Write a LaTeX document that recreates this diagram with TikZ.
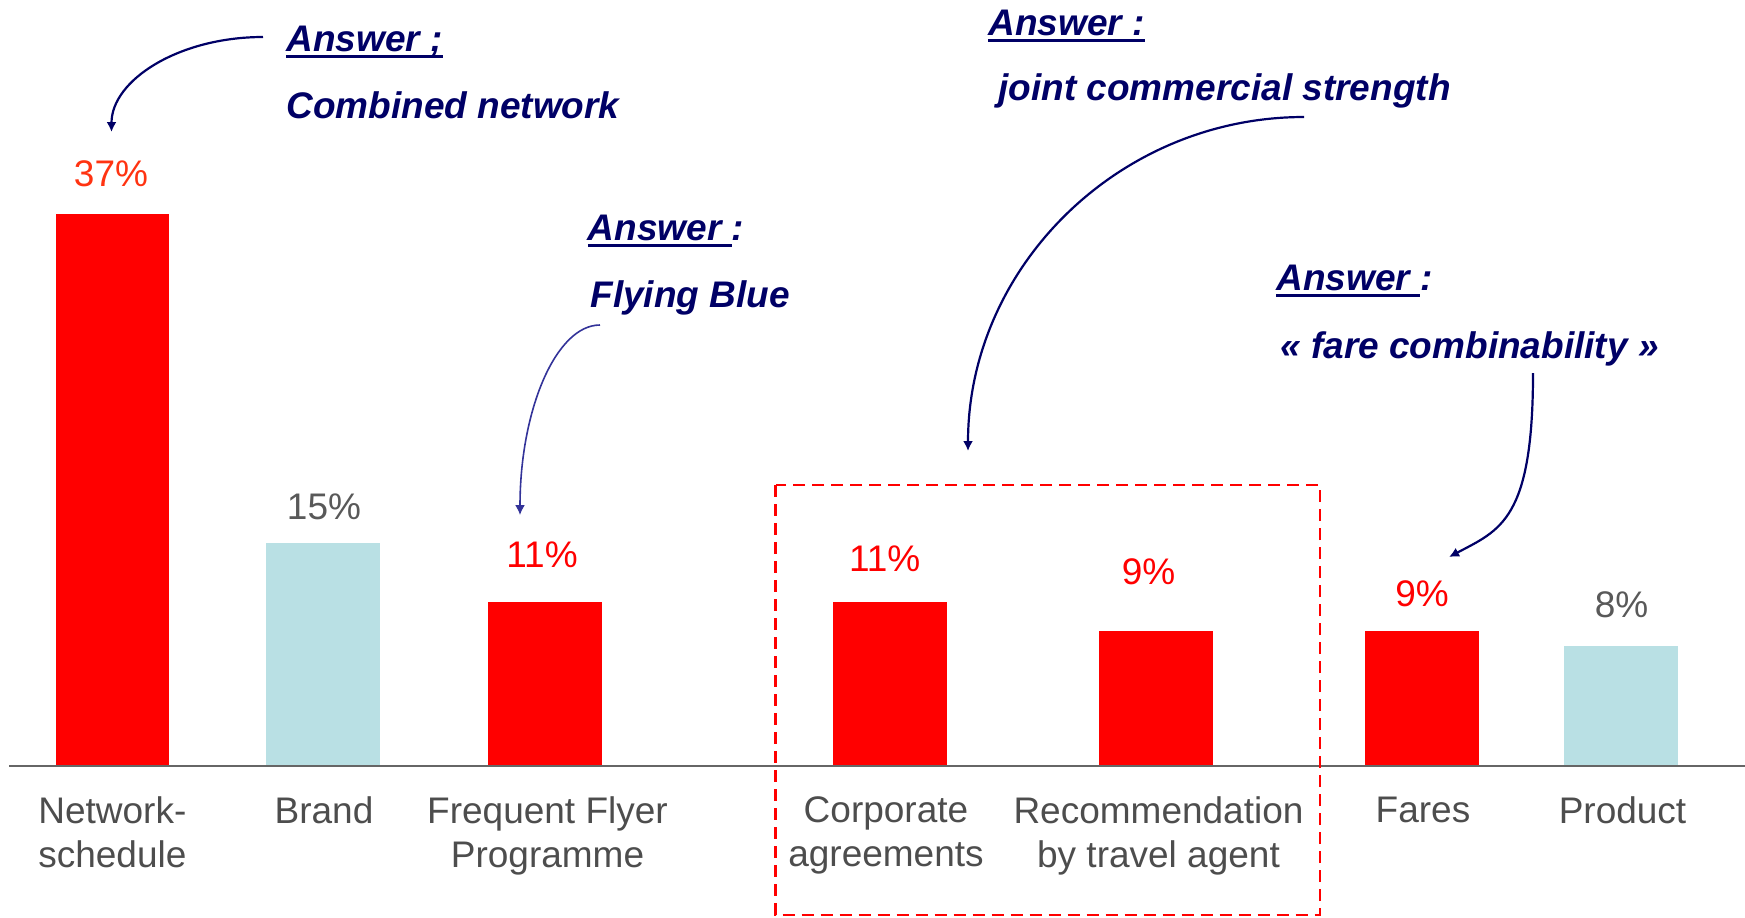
\documentclass[tikz,border=0pt]{standalone}
\usepackage{fontspec}
\setmainfont{Liberation Sans}
\usetikzlibrary{arrows.meta}

\definecolor{barred}{RGB}{255,0,0}
\definecolor{barblue}{RGB}{185,224,228}
\definecolor{navy}{RGB}{0,0,102}
\definecolor{softnavy}{RGB}{51,51,153}
\definecolor{labelgray}{RGB}{77,77,77}
\definecolor{pctgray}{RGB}{89,89,89}
\definecolor{pctorange}{RGB}{255,51,17}

\newcommand{\answerline}[1]{\setbox0\hbox{#1}\rlap{\rule[-3.7pt]{\wd0}{1.9pt}}\box0}

\begin{document}
\begin{tikzpicture}[x=0.5pt, y=-0.5pt,
    bar/.style={anchor=south, inner sep=0, minimum width=56.75pt},
    pct/.style={anchor=base, inner sep=0, font=\fontsize{18.5}{22}\selectfont},
    catlabel/.style={anchor=north, inner sep=0, align=center, text=labelgray, font=\fontsize{18.5}{21.8}\selectfont},
    answer/.style={anchor=base west, inner sep=0, text=navy, font=\fontsize{18.5}{22}\selectfont\bfseries\itshape},
    pointer/.style={-{Latex[length=5pt, width=5pt]}, line width=1.1pt, navy}
  ]
    \useasboundingbox (0,0) rectangle (1745,917);

    % bars
    \node[bar, fill=barred, minimum height=275.5pt] (barNet) at (112.4,765.7) {};
    \node[bar, fill=barblue, minimum height=111.3pt] (barBrand) at (323,765.7) {};
    \node[bar, fill=barred, minimum height=81.8pt] (barFFP) at (545,765.7) {};
    \node[bar, fill=barred, minimum height=81.8pt] (barCorp) at (890,765.7) {};
    \node[bar, fill=barred, minimum height=67.3pt] (barAgent) at (1156,765.7) {};
    \node[bar, fill=barred, minimum height=67.3pt] (barFares) at (1422,765.7) {};
    \node[bar, fill=barblue, minimum height=59.5pt] (barProduct) at (1621,765.7) {};

    % axis
    \coordinate (axisL) at (9,765.7);
    \coordinate (axisR) at (1745,765.7);
    \draw[line width=0.9pt, black!60] (axisL) -- (axisR);

    % values
    \node[pct, text=pctorange] (pctNet) at (111,186) {37\%};
    \node[pct, text=pctgray] (pctBrand) at (324,519) {15\%};
    \node[pct, text=barred] (pctFFP) at (542,567.5) {11\%};
    \node[pct, text=barred] (pctCorp) at (884.7,571) {11\%};
    \node[pct, text=barred] (pctAgent) at (1148.5,584) {9\%};
    \node[pct, text=barred] (pctFares) at (1422,606) {9\%};
    \node[pct, text=pctgray] (pctProduct) at (1621.5,617.5) {8\%};

    % categories
    \node[catlabel] (catNet) at (112.4,796.7) {Network-\\schedule};
    \node[catlabel] (catBrand) at (324,796.7) {Brand};
    \node[catlabel] (catFFP) at (547.5,796.7) {Frequent Flyer\\Programme};
    \node[catlabel] (catCorp) at (886,796.7) {Corporate\\agreements};
    \node[catlabel] (catAgent) at (1158.5,796.7) {Recommendation\\by travel agent};
    \node[catlabel] (catFares) at (1423,796.7) {Fares};
    \node[catlabel] (catProduct) at (1622.5,796.7) {Product};

    % group box
    \draw[barred, line width=1.2pt, dash pattern=on 6pt off 3.5pt] (775.6,485) rectangle (1319.8,915);

    % answers
    \node[answer] (ansNetHead) at (286,51) {\answerline{Answer ;}};
    \node[answer] (ansNet) at (286,118) {Combined network};
    \node[answer] (ansFFPHead) at (587.5,240) {\answerline{Answer }:};
    \node[answer] (ansFFP) at (590,307) {Flying Blue};
    \node[answer] (ansCorpHead) at (988,35) {\answerline{Answer :}};
    \node[answer] (ansCorp) at (998,100) {joint commercial strength};
    \node[answer] (ansFaresHead) at (1276,290) {\answerline{Answer }:};
    \node[answer] (ansFares) at (1280,358) {« fare combinability »};

    % pointers
    \coordinate (netFrom) at (263,37);
    \coordinate (netTo) at (111.5,132);
    \coordinate (ffpFrom) at (600,325);
    \coordinate (ffpTo) at (520,515);
    \coordinate (corpFrom) at (1304,117);
    \coordinate (corpTo) at (968,451);
    \coordinate (faresFrom) at (1533,373);
    \coordinate (faresTo) at (1449,557);

    \draw[pointer] (netFrom) .. controls +(-84,0) and +(0,-52) .. (netTo);
    \draw[pointer, softnavy, line width=0.8pt] (ffpFrom) .. controls +(-44,0) and +(0,-105) .. (ffpTo);
    \draw[pointer] (corpFrom) .. controls +(-185,0) and +(0,-184) .. (corpTo);
    \draw[pointer] (faresFrom) .. controls +(0,147) and +(51,-27) .. (faresTo);
  \end{tikzpicture}
\end{document}
